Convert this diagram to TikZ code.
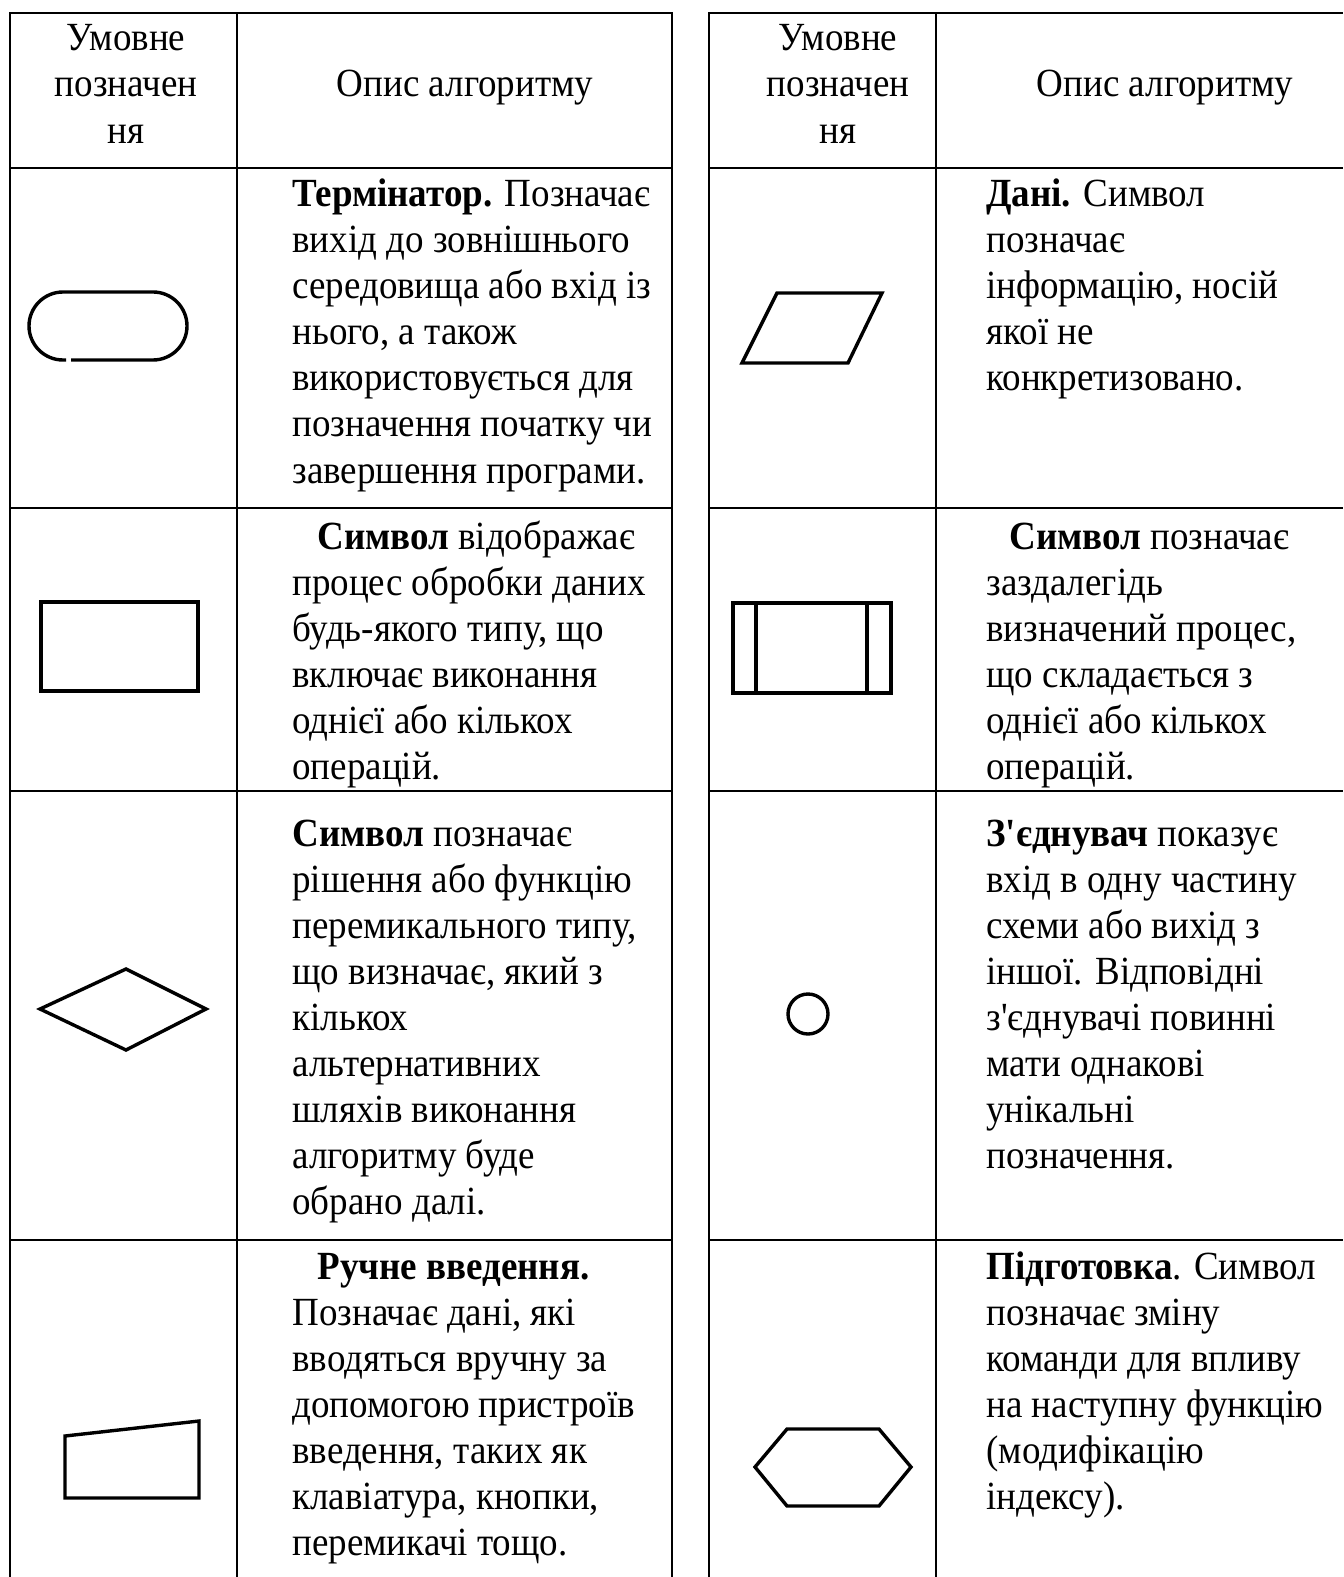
\documentclass[tikz,border=0pt]{standalone}
\usepackage{fontspec}
\usepackage{graphicx}
\setmainfont{Liberation Serif}[Ligatures=TeXOff]
\begin{document}
\begin{tikzpicture}[x=0.5pt,y=-0.5pt,
  grid/.style={line width=1.1pt},
  symb/.style={line width=1.7pt, line join=miter},
  txt/.style={anchor=base west, inner sep=0pt, font=\fontsize{18.5}{23}\selectfont},
  hd/.style={anchor=base, inner sep=0pt, font=\fontsize{18.5}{23}\selectfont}]
\useasboundingbox (0,0) rectangle (1343,1577);

% slightly tall letter shapes
\newcommand\tall[1]{\scalebox{1}[1.08]{#1}}
% one cell of text: name prefix, left x, first baseline, lines
\newcommand\celltext[4]{%
  \foreach \t [count=\i] in {#4}
    \node[txt] (#1\i) at (#2,#3+46*\i-46) {\tall{\t}};}

% ---------- table rules ----------
\draw[grid] (10,1577) -- (10,13) -- (672,13) -- (672,1577);
\draw[grid] (237,13) -- (237,1577);
\foreach \y in {168,508,791,1240} \draw[grid] (10,\y) -- (672,\y);

\draw[grid] (709,1577) -- (709,13) -- (1343,13);
\draw[grid] (936,13) -- (936,1577);
\foreach \y in {168,508,791,1240} \draw[grid] (709,\y) -- (1343,\y);

% ---------- headers ----------
\node[hd] (hl1) at (126,51) {\tall{Умовне}};
\node[hd] (hl2) at (126,97) {\tall{позначен}};
\node[hd] (hl3) at (126,144) {\tall{ня}};
\node[hd] (hl4) at (465,97) {\tall{Опис алгоритму}};
\node[hd] (hr1) at (838,51) {\tall{Умовне}};
\node[hd] (hr2) at (838,97) {\tall{позначен}};
\node[hd] (hr3) at (838,144) {\tall{ня}};
\node[hd] (hr4) at (1165,97) {\tall{Опис алгоритму}};

% ---------- left column texts ----------
\celltext{la}{292}{207}{{\textbf{Термінатор.} Позначає},{вихід до зовнішнього},{середовища або вхід із},{нього, а також},{використовується для},{позначення початку чи},{завершення програми.}}
\celltext{lb}{317}{549}{{\textbf{Символ} відображає}}
\celltext{lc}{292}{595}{{процес обробки даних},{будь-якого типу, що},{включає виконання},{однієї або кількох},{операцій.}}
\celltext{ld}{292}{846}{{\textbf{Символ} позначає},{рішення або функцію},{перемикального типу,},{що визначає, який з},{кількох},{альтернативних},{шляхів виконання},{алгоритму буде},{обрано далі.}}
\celltext{le}{317}{1279}{{\textbf{Ручне введення.}}}
\celltext{lf}{292}{1325}{{Позначає дані, які},{вводяться вручну за},{допомогою пристроїв},{введення, таких як},{клавіатура, кнопки,},{перемикачі тощо.}}

% ---------- right column texts ----------
\celltext{ra}{986}{207}{{\textbf{Дані.} Символ},{позначає},{інформацію, носій},{якої не},{конкретизовано.}}
\celltext{rb}{1009}{549}{{\textbf{Символ} позначає}}
\celltext{rc}{986}{595}{{заздалегідь},{визначений процес,},{що складається з},{однієї або кількох},{операцій.}}
\celltext{rd}{986}{846}{{\textbf{З'єднувач} показує},{вхід в одну частину},{схеми або вихід з},{іншої. Відповідні},{з'єднувачі повинні},{мати однакові},{унікальні},{позначення.}}
\celltext{re}{986}{1279}{{\textbf{Підготовка}. Символ},{позначає зміну},{команди для впливу},{на наступну функцію},{(модифікацію},{індексу).}}

% ---------- flowchart symbols ----------
% terminator
\draw[symb] (71,360) -- (153,360) arc[start angle=90,end angle=-90,radius=34]
  -- (63,292) arc[start angle=-90,end angle=-270,radius=34] -- (66,360);
% process
\draw[symb] (41,602) rectangle (198,691);
% decision
\draw[symb] (40,1009) -- (126,969) -- (206,1009) -- (126,1050) -- cycle;
% manual input
\draw[symb] (65,1436) -- (199,1421) -- (199,1498) -- (65,1498) -- cycle;
% data
\draw[symb] (777,293) -- (882,293) -- (848,363) -- (742,363) -- cycle;
% predefined process
\draw[symb] (733,603) rectangle (891,693);
\draw[symb] (756,603) -- (756,693);
\draw[symb] (867,603) -- (867,693);
% connector
\draw[symb] (808,1014) circle[radius=20];
% preparation
\draw[symb] (755,1467) -- (787,1429) -- (879,1429) -- (911,1467) -- (879,1506) -- (787,1506) -- cycle;
\end{tikzpicture}
\end{document}
